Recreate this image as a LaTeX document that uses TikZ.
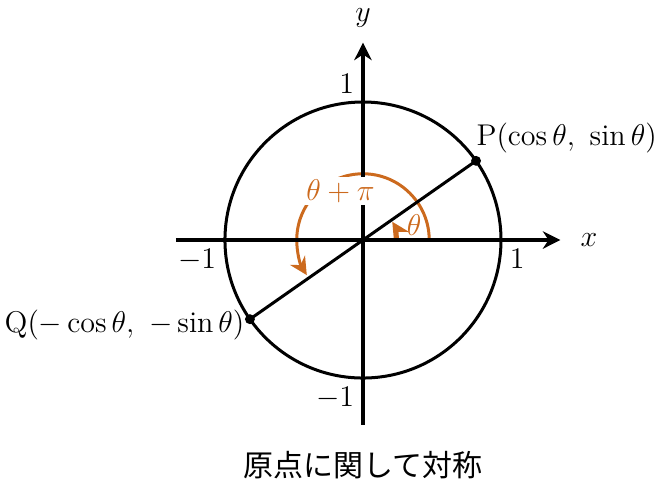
\documentclass[tikz,border=0pt]{standalone}
\usepackage{fontspec}
\usetikzlibrary{arrows.meta}
\newfontfamily\jpfont{Noto Sans CJK JP}
\definecolor{anglecol}{RGB}{204,106,30}
\begin{document}
\begin{tikzpicture}[x=1.94cm,y=1.94cm,font=\large,>={Stealth[length=7pt,width=7pt]}]
         \useasboundingbox (-2.630,-1.812) rectangle (2.181,1.739) ;
         %\draw[very thin,gray,step=0.5] (-2.5,-1.75) grid (2,1.75) ;
         \coordinate (O) at (0,0) ;
         \coordinate (P) at (35:1) ;
         \coordinate (Q) at (215:1) ;
         % angles
         \draw[->,anglecol,very thick] (0.48,0) arc[start angle=0,end angle=212,radius=0.48] ;
         \draw[->,anglecol,very thick] (0.25,0) arc[start angle=0,end angle=32,radius=0.25] ;
         \node[anglecol] (th) at (0.37,0.109) {$\theta$} ;
         % axes and circle
         \draw[->,line width=1.6pt] (-1.355,0) -- (1.43,0) node[right=4pt] (xlab) {$x$} ;
         \draw[->,line width=1.6pt] (0,-1.34) -- (0,1.43) node[above=2pt] (ylab) {$y$} ;
         \draw[very thick] (O) circle (1) ;
         \node[below right] (xone) at (1,0) {$1$} ;
         \node[below left] (xmone) at (-1,0) {$-1$} ;
         \node[above left] (yone) at (0,1) {$1$} ;
         \node[below left] (ymone) at (0,-1) {$-1$} ;
         % P and Q
         \draw[very thick] (P) -- (Q) ;
         \fill (P) circle (0.036) node[anchor=south west,inner sep=0pt,yshift=3pt] (plab)
         {$\mathrm{P}(\cos\theta,\ \sin\theta)$} ;
         \fill (Q) circle (0.036) node[anchor=east,inner sep=0pt,xshift=-2pt,yshift=-2.2pt] (qlab)
         {$\mathrm{Q}(-\cos\theta,\ -\sin\theta)$} ;
         \node[anglecol,fill=white,inner sep=1pt] (tpi) at (-0.163,0.352) {$\theta+\pi$} ;
         \node (cap) at (0,-1.63) {\jpfont 原点に関して対称} ;
      \end{tikzpicture}
\end{document}
